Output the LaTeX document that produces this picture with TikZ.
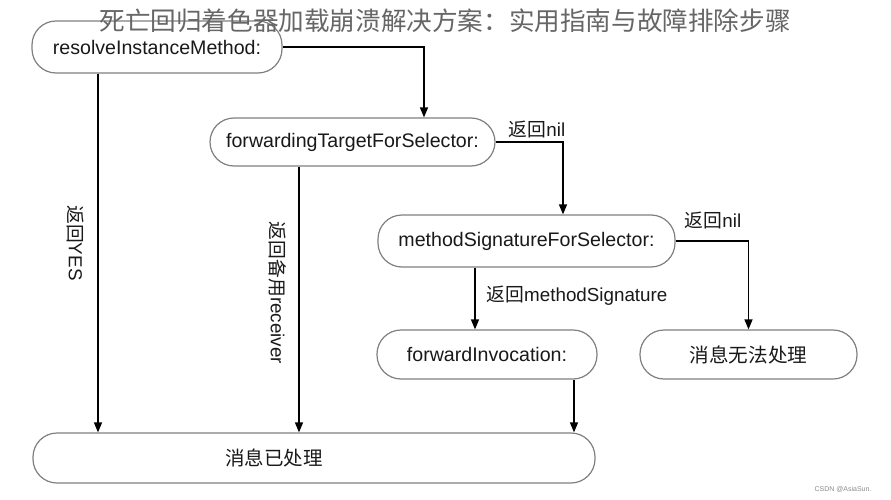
\documentclass[tikz,border=0pt]{standalone}
\usepackage{fontspec}
\setmainfont{Liberation Sans}
\newfontfamily\cjk{Noto Sans CJK SC}
\usetikzlibrary{arrows.meta}
\begin{document}
\begin{tikzpicture}[x=1pt,y=-1pt,
  box/.style={draw=black!50, line width=1.2pt, rounded corners=24pt, minimum height=49pt, inner sep=0pt, font=\fontsize{19.6}{22}\selectfont, text=black!90},
  arr/.style={line width=1.4pt, -{Triangle[length=10pt,width=8pt]}},
  lbl/.style={font=\fontsize{18.8}{21}\selectfont, inner sep=1pt, text=black!90}]
\useasboundingbox[fill=white] (0,0) rectangle (891,500);
% nodes
\node[box, minimum width=250pt, minimum height=52pt] (n1) at (157,47) {resolveInstanceMethod:};
\node[box, minimum width=285pt, minimum height=48pt] (n2) at (352.5,142) {forwardingTargetForSelector:};
\node[box, minimum width=297pt, minimum height=52pt] (n3) at (526.5,241) {methodSignatureForSelector:};
\node[box, minimum width=220pt] (n4) at (487,354.5) {forwardInvocation:};
\node[box, minimum width=217pt] (n5) at (748.5,354.5) {\cjk 消息无法处理};
\node[box, minimum width=562pt, minimum height=50pt] (n6) at (314,458) {};
\node[lbl, font=\cjk\fontsize{19.5}{22}\selectfont] (t6) at (274,458) {消息已处理};
% helper x positions
\coordinate (x424) at (424,0);
\coordinate (x563) at (563,0);
\coordinate (x98) at (98,0);
\coordinate (x299) at (299,0);
\coordinate (x475) at (475,0);
\coordinate (x574) at (574,0);
% connectors
\draw[arr] (n1.east) -| (x424 |- n2.north);
\draw[arr] (n2.east) -| (x563 |- n3.north);
\draw[arr] (n3.east) -| (n5.north);
\draw[arr] (x98 |- n1.south) -- (x98 |- n6.north);
\draw[arr] (x299 |- n2.south) -- (x299 |- n6.north);
\draw[arr] (x475 |- n3.south) -- (x475 |- n4.north);
\draw[arr] (x574 |- n4.south) -- (x574 |- n6.north);
% labels
\node[lbl, rotate=-90] (l1) at (76,243) {{\cjk 返回}YES};
\node[lbl, rotate=-90] (l2) at (278,293) {{\cjk 返回备用}receiver};
\node[lbl] (l3) at (537,129) {{\cjk 返回}nil};
\node[lbl] (l4) at (713,220) {{\cjk 返回}nil};
\node[lbl] (l5) at (577,296) {{\cjk 返回}methodSignature};
% title and watermark
\node[font=\cjk\fontsize{25.6}{28}\selectfont, text=black!60, inner sep=0pt] (title) at (445,21) {死亡回归着色器加载崩溃解决方案：实用指南与故障排除步骤};
\node[font=\fontsize{7}{8}\selectfont, text=black!45, inner sep=0pt] (wm) at (843,489) {CSDN @AsiaSun.};
\end{tikzpicture}
\end{document}
